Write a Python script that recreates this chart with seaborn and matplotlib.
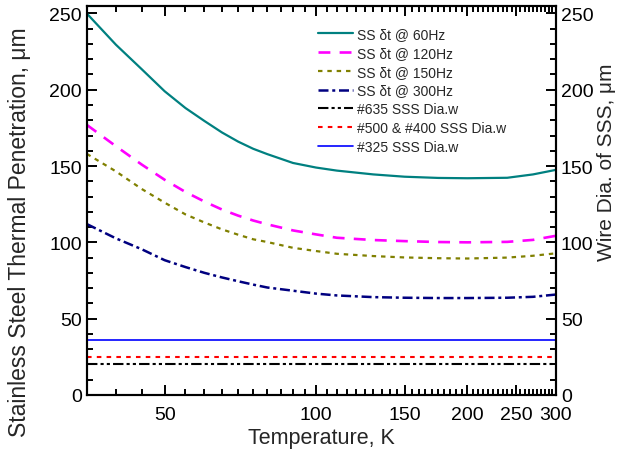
import matplotlib
matplotlib.use("Agg")
import matplotlib.pyplot as plt
import seaborn as sns
import numpy as np
import pandas as pd
from matplotlib.ticker import FixedLocator, FixedFormatter, NullFormatter, MultipleLocator

# ---- data ----
temperature = [35, 40, 45, 50, 55, 60, 65, 70, 75, 80, 90, 100, 110, 130, 150, 175, 200, 240, 270, 300]
pen_60hz  = [250, 229.5, 213.5, 199, 188, 179.5, 172, 166, 161.3, 157.8, 152, 149, 147, 144.5,
             143, 142.2, 142, 142.3, 144.5, 147.5]
pen_120hz = [177, 163, 151, 141, 133, 126.7, 121.5, 117.5, 114.3, 111.8, 107.8, 105.2, 103, 101.5,
             100.8, 100.2, 100, 100.3, 101.6, 104.3]
pen_150hz = [158, 146.5, 135, 126, 118.3, 113, 108.5, 105, 102, 100.2, 96.4, 94.3, 92.5, 91,
             90.1, 89.6, 89.4, 90, 91.2, 92.8]
pen_300hz = [112, 102.6, 95.5, 88.3, 83.8, 80, 77, 74.5, 72.3, 70.4, 68.3, 66.4, 65.2, 64.1,
             63.7, 63.5, 63.5, 63.7, 64.3, 65.8]
wire_labels = ["#635 SSS Dia.w", "#500 & #400 SSS Dia.w", "#325 SSS Dia.w"]
wire_dia = [20, 25, 36]
curve_labels = ["SS \u03b4t @ 60Hz", "SS \u03b4t @ 120Hz", "SS \u03b4t @ 150Hz", "SS \u03b4t @ 300Hz"]
x_major = [50, 100, 150, 200, 250, 300]
x_major_labels = ["50", "100", "150", "200", "250", "300"]

sns.set_style("ticks")
plt.rcParams['font.family'] = ['Liberation Sans', 'DejaVu Sans']

fig = plt.figure(figsize=(6.24, 4.52), dpi=100)
ax = fig.add_axes([0.139, 0.124, 0.752, 0.861])

styles = [
    dict(color="#008080", lw=1.6, ls="-"),
    dict(color="#FF00FF", lw=1.9, ls=(0, (4.5, 3.5))),
    dict(color="#808000", lw=1.6, ls=(0, (2, 2.2))),
    dict(color="#000080", lw=1.8, ls=(0, (4, 1.5, 1.2, 1.5))),
]
for vals, lab, st in zip([pen_60hz, pen_120hz, pen_150hz, pen_300hz], curve_labels, styles):
    df = pd.DataFrame({"T": temperature, "v": vals})
    sns.lineplot(data=df, x="T", y="v", ax=ax, label=lab, color=st["color"],
                 linewidth=st["lw"], linestyle=st["ls"], estimator=None, sort=True)

wire_styles = [
    dict(color="black", lw=1.5, ls=(0, (5, 1.5, 1.5, 1.5, 1.5, 1.5))),
    dict(color="#FF0000", lw=1.5, ls=(0, (2.2, 2.5))),
    dict(color="#0000FF", lw=1.2, ls="-"),
]
for d, lab, st in zip(wire_dia, wire_labels, wire_styles):
    df = pd.DataFrame({"T": temperature, "v": [d] * len(temperature)})
    sns.lineplot(data=df, x="T", y="v", ax=ax, label=lab, color=st["color"],
                 linewidth=st["lw"], linestyle=st["ls"], estimator=None)

ax.set_xscale("log")
ax.set_xlim(35, 300)
ax.set_ylim(0, 255)
ax.xaxis.set_major_locator(FixedLocator(x_major))
ax.xaxis.set_major_formatter(FixedFormatter(x_major_labels))
ax.xaxis.set_minor_locator(FixedLocator([t for t in range(35, 300, 5) if t not in x_major]))
ax.xaxis.set_minor_formatter(NullFormatter())
ax.yaxis.set_major_locator(MultipleLocator(50))
ax.yaxis.set_minor_locator(MultipleLocator(10))

ax.tick_params(which="both", direction="in", top=True, right=False, width=1.4, labelsize=14, colors="black")
ax.tick_params(which="major", length=7)
ax.tick_params(which="minor", length=4.5)
ax.tick_params(axis="x", pad=8)

for sp in ax.spines.values():
    sp.set_linewidth(1.5)
    sp.set_color("black")
    sp.set_visible(True)

ax.set_xlabel("Temperature, K", fontsize=15.5, labelpad=3)
ax.set_ylabel("Stainless Steel Thermal Penetration, \u03bcm", fontsize=16.5)
ax.yaxis.set_label_coords(-0.118, 0.42)

ax2 = ax.twinx()
ax2.set_ylim(0, 255)
ax2.yaxis.set_major_locator(MultipleLocator(50))
ax2.yaxis.set_minor_locator(MultipleLocator(10))
ax2.tick_params(which="both", direction="in", width=1.4, labelsize=14, colors="black")
ax2.tick_params(which="major", length=7)
ax2.tick_params(which="minor", length=4.5)
ax2.set_ylabel("Wire Dia. of SSS, \u03bcm", fontsize=15)
ax2.yaxis.set_label_coords(1.088, 0.6)
for sp in ax2.spines.values():
    sp.set_linewidth(1.5)
    sp.set_color("black")

leg = ax.legend(loc="upper left", bbox_to_anchor=(0.4925, 0.946), frameon=False,
                fontsize=10, handlelength=2.5, handletextpad=0.35, labelspacing=0.35,
                borderpad=0, borderaxespad=0)

fig.savefig("out.png", dpi=100)
